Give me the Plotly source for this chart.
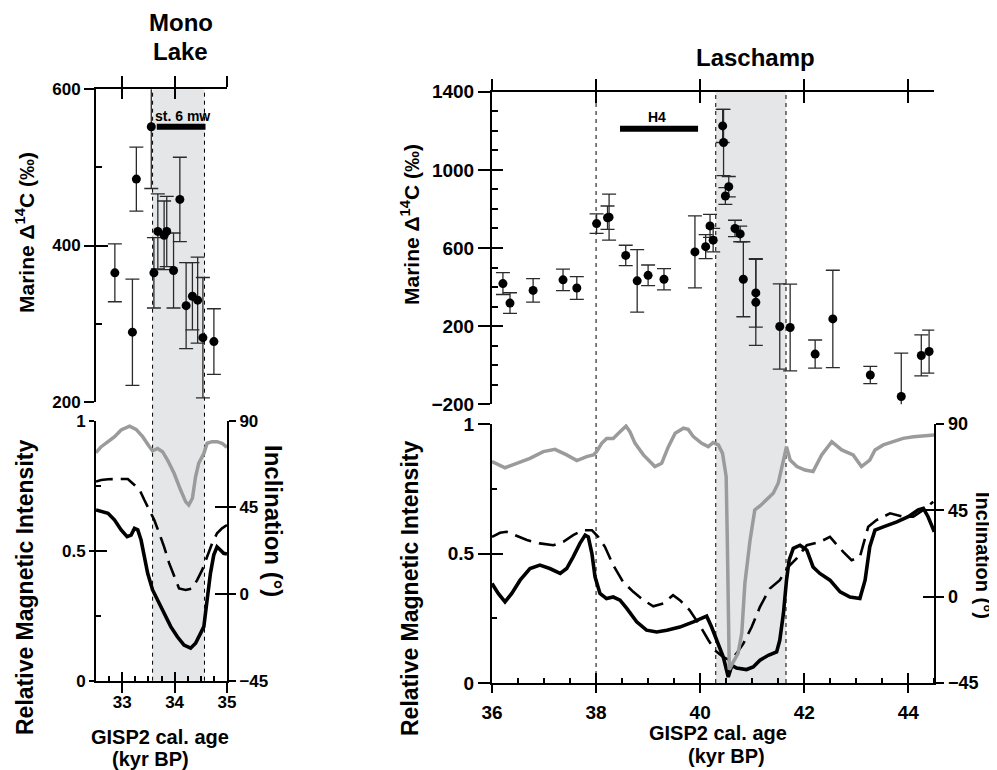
import plotly.graph_objects as go

# ---------------- DATA ----------------
# Mono Lake: marine D14C points (age kyr BP, D14C permil, 1-sigma error)
mono_age = [32.86, 33.195, 33.27, 33.555, 33.605, 33.68, 33.80, 33.85, 33.98, 34.10,
            34.22, 34.34, 34.44, 34.54, 34.75, 35.14]
mono_d14c = [365, 289, 485, 552, 365, 418, 413, 418, 368, 459, 323, 335, 330, 282, 277, 316]
mono_err = [37, 68, 41, 79, 45, 48, 44, 45, 48, 54, 55, 43, 55, 77, 42, 45]

# Mono Lake: relative intensity (solid)
mono_int_age = [32.5, 32.60, 32.73, 32.855, 32.98, 33.094, 33.17, 33.234, 33.297, 33.36,
                33.423, 33.486, 33.58, 33.675, 33.80, 33.927, 34.053, 34.18, 34.306, 34.40,
                34.495, 34.558, 34.62, 34.684, 34.747, 34.81, 34.873, 34.937, 35.0]
mono_int = [0.657, 0.650, 0.644, 0.618, 0.580, 0.554, 0.560, 0.586, 0.580, 0.541,
            0.477, 0.413, 0.349, 0.310, 0.259, 0.208, 0.169, 0.137, 0.125, 0.144,
            0.182, 0.208, 0.310, 0.413, 0.483, 0.515, 0.503, 0.490, 0.487]
# Mono Lake: relative intensity (dashed)
mono_int2_age = [32.5, 32.60, 32.73, 32.886, 33.107, 33.234, 33.328, 33.423, 33.52, 33.612,
                 33.707, 33.80, 33.896, 33.99, 34.085, 34.211, 34.337, 34.43, 34.527, 34.62,
                 34.716, 34.81, 34.905, 35.0]
mono_int2 = [0.766, 0.772, 0.775, 0.776, 0.776, 0.753, 0.736, 0.695, 0.657, 0.618,
             0.567, 0.515, 0.452, 0.400, 0.355, 0.349, 0.355, 0.387, 0.426, 0.477,
             0.528, 0.567, 0.586, 0.599]
# Mono Lake: inclination (grey)
mono_inc_age = [32.5, 32.60, 32.73, 32.855, 32.98, 33.14, 33.265, 33.39, 33.52, 33.58,
                33.675, 33.77, 33.865, 33.99, 34.115, 34.21, 34.27, 34.34, 34.40, 34.46,
                34.56, 34.62, 34.715, 34.81, 34.905, 35.0]
mono_inc = [73.4, 76.5, 79.1, 81.7, 85.2, 87.2, 85.5, 81.7, 76.5, 74.4,
            75.6, 73.9, 69.6, 62.7, 54.0, 48.0, 46.2, 49.7, 60.9, 67.9,
            73.1, 78.3, 79.1, 79.1, 78.3, 76.2]

# Laschamp: marine D14C points
las_age = [36.21, 36.346, 36.79, 37.365, 37.63, 38.01, 38.22, 38.25, 38.57, 38.79,
           39.00, 39.305, 39.90, 40.106, 40.19, 40.25, 40.433, 40.45, 40.485, 40.55,
           40.67, 40.77, 40.83, 41.07, 41.07, 41.53, 41.73, 42.21, 42.55, 43.27,
           43.865, 44.25, 44.40]
las_d14c = [418, 318, 383, 437, 395, 725, 755, 758, 562, 432,
            460, 440, 580, 607, 713, 640, 1225, 1140, 866, 914,
            700, 672, 440, 370, 322, 198, 193, 57, 237, -50,
            -160, 50, 70]
las_err = [56, 53, 60, 55, 58, 50, 60, 118, 52, 160,
           53, 54, 184, 61, 59, 60, 85, 170, 43, 52,
           42, 40, 192, 175, 220, 218, 222, 72, 249, 44,
           222, 105, 110]

# Laschamp: relative intensity (solid)
las_int_age = [36.0, 36.12, 36.25, 36.38, 36.54, 36.73, 36.92, 37.11, 37.31, 37.435,
               37.56, 37.69, 37.79, 37.85, 37.92, 37.98, 38.075, 38.20, 38.33, 38.46,
               38.59, 38.78, 38.97, 39.165, 39.36, 39.61, 39.87, 40.125, 40.22, 40.35,
               40.445, 40.54, 40.61, 40.70, 40.89, 41.02, 41.15, 41.31, 41.47, 41.53,
               41.60, 41.66, 41.71, 41.79, 41.92, 42.05, 42.17, 42.30, 42.495, 42.69,
               42.88, 43.07, 43.17, 43.26, 43.36, 43.52, 43.78, 44.0, 44.19, 44.29,
               44.38, 44.5]
las_int = [0.384, 0.346, 0.313, 0.346, 0.397, 0.442, 0.455, 0.442, 0.423, 0.442,
           0.487, 0.539, 0.571, 0.564, 0.500, 0.410, 0.346, 0.326, 0.332, 0.320,
           0.288, 0.236, 0.204, 0.197, 0.204, 0.216, 0.236, 0.258, 0.216, 0.152,
           0.100, 0.023, 0.068, 0.058, 0.052, 0.062, 0.088, 0.107, 0.120, 0.165,
           0.268, 0.397, 0.474, 0.520, 0.532, 0.513, 0.448, 0.423, 0.397, 0.352,
           0.332, 0.326, 0.397, 0.526, 0.590, 0.603, 0.622, 0.642, 0.668, 0.674,
           0.642, 0.584]
# Laschamp: relative intensity (dashed)
las_int2_age = [36.0, 36.154, 36.28, 36.44, 36.67, 36.92, 37.18, 37.37, 37.56, 37.75,
                37.92, 38.04, 38.17, 38.33, 38.52, 38.715, 38.91, 39.10, 39.29, 39.48,
                39.61, 39.80, 39.99, 40.16, 40.285, 40.445, 40.57, 40.70, 40.83, 40.99,
                41.15, 41.34, 41.53, 41.69, 41.855, 42.05, 42.30, 42.495, 42.75, 42.91,
                43.07, 43.23, 43.39, 43.65, 43.90, 44.095, 44.29, 44.48]
las_int2 = [0.564, 0.580, 0.584, 0.571, 0.552, 0.539, 0.532, 0.545, 0.571, 0.590,
            0.590, 0.564, 0.526, 0.455, 0.390, 0.352, 0.320, 0.296, 0.307, 0.339,
            0.320, 0.281, 0.223, 0.165, 0.126, 0.100, 0.088, 0.114, 0.152, 0.216,
            0.294, 0.365, 0.397, 0.448, 0.481, 0.532, 0.545, 0.564, 0.506, 0.474,
            0.487, 0.603, 0.629, 0.655, 0.642, 0.642, 0.668, 0.700]
# Laschamp: inclination (grey)
las_inc_age = [36.0, 36.25, 36.475, 36.73, 36.986, 37.21, 37.435, 37.63, 37.82, 37.947,
               38.01, 38.108, 38.204, 38.33, 38.46, 38.575, 38.65, 38.75, 38.91, 39.13,
               39.26, 39.39, 39.52, 39.68, 39.77, 39.87, 40.03, 40.156, 40.25, 40.35,
               40.43, 40.50, 40.52, 40.54, 40.56, 40.625, 40.73, 40.80, 40.86, 40.96,
               41.05, 41.15, 41.28, 41.405, 41.50, 41.60, 41.66, 41.73, 41.86, 42.015,
               42.17, 42.335, 42.53, 42.72, 42.94, 43.10, 43.26, 43.36, 43.52, 43.71,
               43.90, 44.10, 44.29, 44.5]
las_inc = [70.4, 67.2, 69.5, 72.1, 75.6, 76.8, 73.9, 70.9, 73.0, 73.9,
           75.6, 79.9, 82.5, 82.5, 86.0, 88.9, 86.0, 79.9, 73.9, 67.8,
           69.5, 78.2, 85.2, 87.8, 87.2, 83.4, 79.9, 78.2, 80.3, 79.1,
           74.7, 62.6, 33.1, -1.6, -38.1, -34.6, -29.4, -19.0, 7.0, 29.6,
           45.2, 47.3, 50.4, 53.9, 59.1, 71.2, 78.2, 71.2, 67.8, 66.0,
           65.2, 73.9, 80.8, 76.5, 73.9, 67.8, 71.2, 76.5, 79.1, 80.8,
           82.5, 83.4, 83.7, 84.3]

# event bars and shaded excursion windows
mono_bar_age = [33.66, 34.59]
mono_bar_d14c = [552, 552]
mono_bar_label = "st. 6 mw"
las_bar_age = [38.46, 39.96]
las_bar_d14c = [1211, 1211]
las_bar_label = "H4"
mono_window = [33.58, 34.57]
las_window = [40.30, 41.65]
las_extra_lines = [38.0]

mono_xticks = [33, 34, 35]
mono_xminor = [32.75, 33.25, 33.5, 33.75, 34.25, 34.5, 34.75]
las_xticks = [36, 38, 40, 42, 44]
las_xminor = [36.5, 37, 37.5, 38.5, 39, 39.5, 40.5, 41, 41.5, 42.5, 43, 43.5, 44.5]
int_ticks = [0, 0.5, 1]
int_ticktext = ["0", "0.5", "1"]
int_minor = [0.25, 0.75]
inc_ticks = [-45, 0, 45, 90]
mono_dticks = [200, 400, 600]
mono_dminor = [300, 500]
las_dticks = [-200, 200, 600, 1000, 1400]
las_dminor = [-100, 0, 100, 300, 400, 500, 700, 800, 900, 1100, 1200, 1300]

# ---------------- LAYOUT HELPERS ----------------
VIEW_W, VIEW_H = 997, 770
PAGE_OFFSET = 8          # default body margin of the html page
W, H = VIEW_W - PAGE_OFFSET, VIEW_H - PAGE_OFFSET
FONT = "Liberation Sans, Arial, Helvetica, sans-serif"
GREY = "#9b9b9b"
SHADE = "#e5e6e8"


def tickfont(size):
    return dict(family=FONT, size=size, color="black", weight=700)


def fx(p):
    return (p - PAGE_OFFSET) / W


def fy(p):
    return 1 - (p - PAGE_OFFSET) / H


L_X = [fx(96), fx(227)]
L_TOP = [fy(401.7), fy(89.3)]
L_BOT = [fy(680.7), fy(420.7)]
R_X = [fx(492), fx(934.3)]
R_TOP = [fy(404.3), fy(91.7)]
R_BOT = [fy(683), fy(424)]

layout = {}
dummies = []


def key(ref):
    return ref[0] + "axis" + ref[1:]


def axis(ref, twin_ref, anchor, side, rng, tickvals, out_len, in_len, domain=None,
         overlaying=None, ticktext=None, labels=True, minor=None, minor_len=5,
         standoff=None, fsize=17):
    base = dict(anchor=anchor, side=side, range=rng, tickmode="array", tickvals=tickvals,
                ticks="outside", ticklen=out_len, tickwidth=2, tickcolor="black",
                showticklabels=labels, tickfont=tickfont(fsize), showline=True,
                linecolor="black", linewidth=2, showgrid=False, zeroline=False,
                fixedrange=True, automargin=False)
    if ticktext is not None:
        base["ticktext"] = ticktext
    if domain is not None:
        base["domain"] = domain
    if overlaying is not None:
        base["overlaying"] = overlaying
    if standoff is not None:
        base["ticklabelstandoff"] = standoff
    if minor is not None:
        base["minor"] = dict(tickmode="array", tickvals=minor, ticks="inside",
                             ticklen=minor_len, tickwidth=1.5, tickcolor="black", showgrid=False)
    layout[key(ref)] = base
    # twin axis carrying the inner half of the crossing major ticks
    twin = dict(anchor=anchor, side=side, range=rng, tickmode="array", tickvals=tickvals,
                ticks="inside", ticklen=in_len, tickwidth=2, tickcolor="black",
                showticklabels=False, showline=False, showgrid=False, zeroline=False,
                fixedrange=True, automargin=False, overlaying=overlaying if overlaying else ref)
    layout[key(twin_ref)] = twin
    if ref[0] == "x":
        dummies.append((twin_ref, anchor))
    else:
        dummies.append((anchor, twin_ref))


# Left panel (Mono Lake)
mono_xr = [32.5, 35]
axis("x", "x5", "y", "bottom", mono_xr, mono_xticks, 10, 9, domain=L_X,
     minor=mono_xminor, standoff=-5)
axis("x2", "x6", "y3", "top", mono_xr, mono_xticks, 11, 10, domain=L_X, labels=False)
axis("y", "y7", "x", "left", [0, 1], int_ticks, 5, 11, domain=L_BOT,
     ticktext=int_ticktext, minor=int_minor)
axis("y2", "y8", "x", "right", [-45, 90], inc_ticks, 7, 12, overlaying="y")
axis("y3", "y9", "x2", "left", [200, 600], mono_dticks, 10, 12, domain=L_TOP,
     minor=mono_dminor, minor_len=6)

# Right panel (Laschamp)
las_xr = [36, 44.5]
axis("x3", "x7", "y4", "bottom", las_xr, las_xticks, 8, 10, domain=R_X,
     minor=las_xminor, standoff=3, fsize=19)
axis("x4", "x8", "y6", "top", las_xr, las_xticks, 11, 11, domain=R_X, labels=False)
axis("y4", "y10", "x3", "left", [0, 1], int_ticks, 12, 11, domain=R_BOT,
     ticktext=int_ticktext, minor=int_minor, fsize=19)
axis("y5", "y11", "x3", "right", [-45, 90], inc_ticks, 8, 11, overlaying="y4", fsize=18)
axis("y6", "y12", "x4", "left", [-200, 1400], las_dticks, 12, 11, domain=R_TOP,
     minor=las_dminor, minor_len=6, fsize=19)

# ---------------- TRACES ----------------
fig = go.Figure()

# invisible helper traces so every tick-only twin axis gets a subplot
for xr, yr in dummies:
    xrange_ = layout[key(xr)]["range"]
    yrange_ = layout[key(yr)]["range"]
    fig.add_trace(go.Scatter(x=[xrange_[0]], y=[yrange_[0]], xaxis=xr, yaxis=yr,
                             showlegend=False, hoverinfo="skip", mode="markers",
                             marker=dict(size=1, color="rgba(0,0,0,0)")))

DASH = "17px,8px"


def panel(xb, yint, yinc, xt, yd, ia, iv, ia2, iv2, ca, cv, da, dv, de, ba, bv):
    fig.add_trace(go.Scatter(x=ca, y=cv, xaxis=xb, yaxis=yinc, mode="lines",
                             line=dict(color=GREY, width=3.5), showlegend=False))
    fig.add_trace(go.Scatter(x=ia2, y=iv2, xaxis=xb, yaxis=yint, mode="lines",
                             line=dict(color="black", width=2.6, dash=DASH), showlegend=False))
    fig.add_trace(go.Scatter(x=ia, y=iv, xaxis=xb, yaxis=yint, mode="lines",
                             line=dict(color="black", width=3.6), showlegend=False))
    fig.add_trace(go.Scatter(x=ba, y=bv, xaxis=xt, yaxis=yd, mode="lines",
                             line=dict(color="black", width=6), showlegend=False))
    fig.add_trace(go.Scatter(x=da, y=dv, xaxis=xt, yaxis=yd, mode="markers",
                             marker=dict(color="black", size=9),
                             error_y=dict(type="data", array=de, color="#2b2b2b",
                                          thickness=1.3, width=7),
                             cliponaxis=False, showlegend=False))


panel("x", "y", "y2", "x2", "y3", mono_int_age, mono_int, mono_int2_age, mono_int2,
      mono_inc_age, mono_inc, mono_age, mono_d14c, mono_err, mono_bar_age, mono_bar_d14c)
panel("x3", "y4", "y5", "x4", "y6", las_int_age, las_int, las_int2_age, las_int2,
      las_inc_age, las_inc, las_age, las_d14c, las_err, las_bar_age, las_bar_d14c)

# ---------------- SHAPES ----------------
shapes = []


def window(xref, win, ybot, ytop, extra):
    shapes.append(dict(type="rect", xref=xref, yref="paper", x0=win[0], x1=win[1],
                       y0=ybot, y1=ytop, fillcolor=SHADE, line=dict(width=0), layer="below"))
    for xv in list(win) + list(extra):
        shapes.append(dict(type="line", xref=xref, yref="paper", x0=xv, x1=xv,
                           y0=ybot, y1=ytop, line=dict(color="black", width=1, dash="4px,4px"),
                           layer="below"))


window("x", mono_window, L_BOT[0], L_TOP[1], [])
window("x3", las_window, R_BOT[0], R_TOP[1], las_extra_lines)

# ---------------- ANNOTATIONS ----------------
def ann(text, xp, yp, size, angle=0):
    return dict(text=text, x=fx(xp), y=fy(yp), xref="paper", yref="paper", showarrow=False,
                textangle=angle, xanchor="center", yanchor="middle",
                font=dict(family=FONT, size=size, color="black", weight=700))


d14c_title = "Marine \u0394<sup>14</sup>C (\u2030)"
annotations = [
    ann("Mono", 181, 22, 24), ann("Lake", 180, 52, 24),
    ann("Laschamp", 755, 57, 24),
    ann(mono_bar_label, 182, 116, 14), ann(las_bar_label, 657, 117.5, 14),
    ann(d14c_title, 25, 233, 21, -90), ann(d14c_title, 410, 225, 21, -90),
    ann("Relative Magnetic Intensity", 25, 588, 23, -90),
    ann("Relative Magnetic Intensity", 410, 589, 23, -90),
    ann("Inclination (\u00b0)", 274, 521, 24, 90),
    ann("Inclination (\u00b0)", 983, 555, 20, 90),
    ann("GISP2 cal. age", 160, 737, 20), ann("(kyr BP)", 150, 759, 20),
    ann("GISP2 cal. age", 718, 733, 20), ann("(kyr BP)", 726, 756, 20),
]

fig.update_layout(width=W, height=H,
                  margin=dict(l=0, r=0, t=0, b=0, pad=0, autoexpand=False),
                  paper_bgcolor="white", plot_bgcolor="rgba(0,0,0,0)",
                  showlegend=False, shapes=shapes, annotations=annotations,
                  font=dict(family=FONT, color="black"), **layout)

fig.write_html("out.html")
